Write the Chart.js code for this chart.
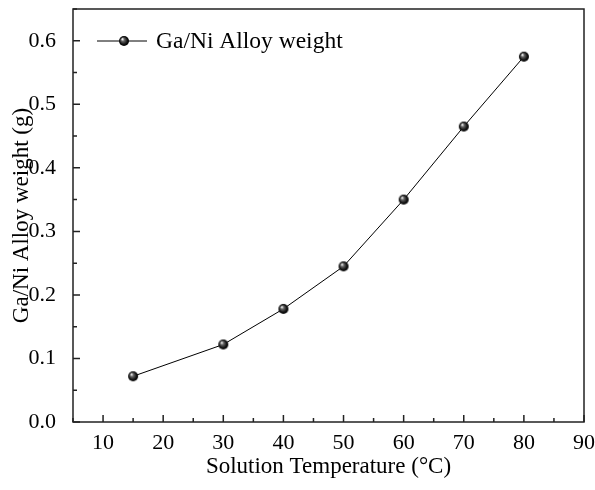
<!DOCTYPE html>
<html>
<head>
<meta charset="utf-8">
<script src="https://cdn.jsdelivr.net/npm/chart.js@4"></script>
<style>
  body { margin: 0; background: #fff; }
  #wrap { width: 595px; height: 490px; }
</style>
</head>
<body>
<div id="wrap"><canvas id="weightChart"></canvas></div>
<script>
const temperatures = [15, 30, 40, 50, 60, 70, 80];
const alloyWeight = [0.072, 0.122, 0.178, 0.245, 0.35, 0.465, 0.575];
const seriesName = "Ga/Ni Alloy weight";
const xTitle = "Solution Temperature (\u00B0C)";
const yTitle = "Ga/Ni Alloy weight (g)";
const xTickValues = [10, 20, 30, 40, 50, 60, 70, 80, 90];
const yTickValues = [0, 0.1, 0.2, 0.3, 0.4, 0.5, 0.6];

const FONT = "'Liberation Serif', 'Times New Roman', serif";

// shaded ball marker
function makeBall(r) {
    const c = document.createElement("canvas");
    const s = r * 2 + 2;
    c.width = s;
    c.height = s;
    const g = c.getContext("2d");
    const cx = s / 2, cy = s / 2;
    const grad = g.createRadialGradient(cx - r * 0.35, cy - r * 0.4, 0.3, cx, cy, r);
    grad.addColorStop(0, "#ffffff");
    grad.addColorStop(0.3, "#666");
    grad.addColorStop(0.75, "#111");
    grad.addColorStop(1, "#000");
    g.fillStyle = grad;
    g.beginPath();
    g.arc(cx, cy, r, 0, Math.PI * 2);
    g.fill();
    return c;
}
const ball = makeBall(5);

// inward ticks + legend drawn inside the plot
const frame = {
    id: "frame",
    afterDraw(chart) {
        const { ctx, chartArea: a, scales: { x, y } } = chart;
        ctx.save();
        ctx.strokeStyle = "#222";
        ctx.lineWidth = 1.5;
        ctx.strokeRect(a.left, a.top, a.right - a.left, a.bottom - a.top);
        ctx.beginPath();
        for (let v = 5; v <= 90; v += 5) {
            const px = x.getPixelForValue(v);
            const len = v % 10 === 0 ? 7 : 4;
            ctx.moveTo(px, a.bottom);
            ctx.lineTo(px, a.bottom - len);
        }
        for (let i = 0; i <= 13; i++) {
            const py = y.getPixelForValue(i * 0.05);
            const len = i % 2 === 0 ? 7 : 4;
            ctx.moveTo(a.left, py);
            ctx.lineTo(a.left + len, py);
        }
        ctx.stroke();

        // legend
        const ly = a.top + 32;
        ctx.strokeStyle = "#000";
        ctx.lineWidth = 1;
        ctx.beginPath();
        ctx.moveTo(a.left + 24, ly);
        ctx.lineTo(a.left + 74, ly);
        ctx.stroke();
        ctx.drawImage(ball, a.left + 51 - ball.width / 2, ly - ball.height / 2);
        ctx.fillStyle = "#000";
        ctx.font = "23.5px " + FONT;
        ctx.textBaseline = "alphabetic";
        ctx.fillText(seriesName, a.left + 83, ly + 7);
        ctx.restore();
    },
};

new Chart(document.getElementById("weightChart"), {
    type: "line",
    data: {
        datasets: [
            {
                label: seriesName,
                data: temperatures.map((t, i) => ({ x: t, y: alloyWeight[i] })),
                borderColor: "#000",
                borderWidth: 1,
                pointStyle: ball,
                pointRadius: 5,
                tension: 0,
            },
        ],
    },
    options: {
        responsive: true,
        maintainAspectRatio: false,
        animation: false,
        layout: { padding: { top: 9, right: 11, left: 0, bottom: 0 } },
        plugins: {
            legend: { display: false },
            tooltip: { enabled: false },
        },
        scales: {
            x: {
                type: "linear",
                min: 5,
                max: 90,
                grid: { display: false },
                border: { display: false },
                ticks: {
                    color: "#000",
                    padding: 0,
                    maxRotation: 0,
                    font: { family: FONT, size: 22 },
                },
                afterBuildTicks(scale) {
                    scale.ticks = xTickValues.map((v) => ({ value: v }));
                },
                title: {
                    display: true,
                    text: xTitle,
                    color: "#000",
                    font: { family: FONT, size: 23 },
                    padding: { top: 0, bottom: 9 },
                },
                afterFit(scale) {
                    scale.height = 68;
                    scale.paddingRight = 0;
                    scale.paddingLeft = 0;
                },
            },
            y: {
                min: 0,
                max: 0.65,
                grid: { display: false },
                border: { display: false },
                ticks: {
                    color: "#000",
                    padding: 9,
                    font: { family: FONT, size: 22 },
                    callback: (v) => v.toFixed(1),
                },
                afterBuildTicks(scale) {
                    scale.ticks = yTickValues.map((v) => ({ value: v }));
                },
                title: {
                    display: true,
                    text: yTitle,
                    color: "#000",
                    font: { family: FONT, size: 23 },
                    padding: { top: 8, bottom: 0 },
                },
                afterFit(scale) {
                    scale.width = 73;
                    scale.paddingTop = 0;
                    scale.paddingBottom = 0;
                },
            },
        },
    },
    plugins: [frame],
});
</script>
</body>
</html>
